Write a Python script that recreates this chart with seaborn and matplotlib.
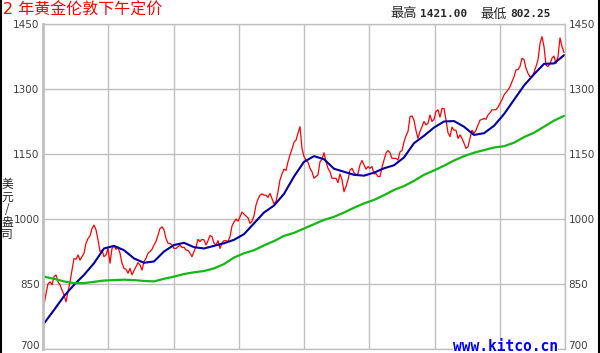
import numpy as np
import matplotlib
matplotlib.use("Agg")
import matplotlib.pyplot as plt
import seaborn as sns
from matplotlib.lines import Line2D

# daily London PM fix (one value every 2 px)
gold = [
    802, 828, 850, 855, 848, 867, 871, 855, 848, 836, 825, 809, 832, 855, 882,
    909, 907, 917, 905, 913, 921, 944, 955, 961, 978, 986, 975, 952, 925, 928,
    913, 917, 932, 898, 932, 938, 930, 935, 921, 898, 886, 884, 875, 886, 871,
    881, 890, 899, 894, 882, 902, 909, 921, 925, 930, 940, 948, 963, 978, 982,
    975, 955, 944, 944, 940, 932,
    932, 936, 940, 934, 935, 928, 928, 921, 913, 925, 936, 953, 948, 953, 952,
    940, 950, 962, 959, 944, 940, 950, 932, 945, 950, 950, 948, 959, 984, 993,
    1000, 995, 1005, 1016, 1011, 1007, 1003, 990, 995, 1007, 1032, 1046, 1055, 1058, 1055,
    1055, 1050, 1059, 1047, 1035, 1040, 1063, 1090, 1104, 1115, 1112, 1132, 1148, 1161, 1177,
    1182, 1198, 1213, 1163, 1144,
    1136, 1131, 1117, 1109, 1094, 1098, 1102, 1132, 1138, 1153, 1132, 1117, 1109, 1094, 1094,
    1094, 1084, 1104, 1090, 1063, 1075, 1090, 1113, 1117, 1107, 1102, 1105, 1125, 1135, 1125,
    1115, 1121, 1117, 1121, 1104, 1105, 1098, 1098, 1119, 1136, 1152, 1158, 1153, 1140, 1140,
    1140, 1136, 1155, 1158, 1178, 1192, 1202, 1236, 1238, 1228, 1204, 1186, 1202, 1213, 1225,
    1217, 1221, 1240, 1225, 1230,
    1248, 1252, 1235, 1255, 1255, 1229, 1199, 1190, 1212, 1205, 1205, 1186, 1194, 1186, 1175,
    1163, 1167, 1186, 1205, 1198, 1205, 1217, 1228, 1230, 1232, 1230, 1240, 1245, 1252, 1252,
    1252, 1258, 1267, 1275, 1286, 1292, 1298, 1305, 1317, 1328, 1344, 1345, 1352, 1371, 1368,
    1348, 1336, 1328, 1328, 1338, 1352, 1367, 1405, 1421, 1398, 1355, 1352, 1358, 1371, 1376,
    1359, 1375, 1418, 1398, 1384,
]

# moving averages, read every 5th point
ma_short = [
    759, 790, 822, 848, 871, 898, 932, 938, 928, 909, 899, 902, 925, 940,
    945, 935, 932, 938, 944, 952, 965, 990, 1015, 1031, 1058, 1098, 1132,
    1145, 1138, 1116, 1109, 1102, 1100, 1107, 1117, 1124, 1142, 1175, 1192, 1211,
    1225, 1226, 1213, 1194, 1198, 1215, 1242, 1275, 1308, 1334, 1358, 1359, 1378,
]
ma_long = [
    867, 862, 856, 852, 852, 855, 858, 859, 860, 859, 857, 856, 862, 867,
    873, 877, 880, 886, 896, 911, 921, 928, 939, 949, 961, 968, 978,
    988, 998, 1005, 1015, 1026, 1036, 1044, 1055, 1067, 1076, 1088, 1102, 1112,
    1123, 1135, 1145, 1153, 1159, 1165, 1168, 1176, 1189, 1199, 1213, 1227, 1238,
]

price_ticks = [700, 850, 1000, 1150, 1300, 1450]
title = "2 年黄金伦敦下午定价"
high_label, high_val = "最高", "1421.00"
low_label, low_val = "最低", "802.25"
unit = "美\n元\n/\n盎\n司"
site = "www.kitco.cn"

sns.set_style("white")
cjk = ['DejaVu Sans', 'Noto Sans CJK SC']
plt.rcParams['font.family'] = cjk

fig = plt.figure(figsize=(6, 3.53), dpi=100)
ax = fig.add_axes([43 / 600, 4 / 353, 522 / 600, 325 / 353])

day = np.arange(len(gold))
ma_day = np.arange(0, len(gold), 5)

sns.lineplot(x=day, y=gold, ax=ax, color='#ff0000', lw=0.9)
sns.lineplot(x=ma_day, y=ma_short, ax=ax, color='#0000a8', lw=1.5)
sns.lineplot(x=ma_day, y=ma_long, ax=ax, color='#14b814', lw=1.6)

ax.set_xlim(-0.5, len(gold) - 0.5)
ax.set_ylim(700, 1450)
ax.set_yticks(price_ticks)
ax.set_xticks(np.linspace(-0.5, len(gold) - 0.5, 9))
ax.set_xticklabels([])
ax.grid(True, color='#c0c0c0', lw=1.0)
ax.set_axisbelow(True)
ax.tick_params(axis='x', length=0)
ax.tick_params(axis='y', labelright=True, right=False, left=False, length=0,
               labelsize=7.5, labelcolor='#404040', pad=2.5)
for i, tk in enumerate(ax.yaxis.get_major_ticks()):
    # bottom label sits on the baseline so it is not clipped at the edge
    va = 'baseline' if i == 0 else 'center_baseline'
    tk.label1.set_verticalalignment(va)
    tk.label2.set_verticalalignment(va)
for side, sp in ax.spines.items():
    sp.set_color('#c0c0c0')
    sp.set_linewidth(2.0 if side == 'left' else 1.0)

fig.text(3 / 600, 1 - 10.5 / 353, title, color='#ff0000', fontsize=11.5,
         ha='left', va='center', family=cjk)
fig.text(390 / 600, 1 - 14 / 353, high_label, fontsize=9.5, ha='left', va='center',
         family=['Noto Sans CJK SC'])
fig.text(420 / 600, 1 - 14 / 353, high_val, fontsize=8, ha='left', va='center',
         family='DejaVu Sans Mono', weight='bold')
fig.text(480 / 600, 1 - 14 / 353, low_label, fontsize=9.5, ha='left', va='center',
         family=['Noto Sans CJK SC'])
fig.text(510 / 600, 1 - 14 / 353, low_val, fontsize=8, ha='left', va='center',
         family='DejaVu Sans Mono', weight='bold')
fig.text(7 / 600, 1 - 210 / 353, unit, fontsize=8.5, ha='center', va='center',
         linespacing=0.95, family=['Noto Sans CJK SC', 'DejaVu Sans'])
fig.text(453 / 600, 1 - 351 / 353, site, color='#0000ff', fontsize=10.5,
         family='DejaVu Sans Mono', weight='bold', ha='left', va='baseline',
         bbox=dict(fc='white', ec='none', pad=0))

fig.add_artist(Line2D([0.0015, 0.0015], [0, 1], color='black', lw=1.5,
                      transform=fig.transFigure))
fig.add_artist(Line2D([598.5 / 600, 598.5 / 600], [0, 1], color='black', lw=1.5,
                      transform=fig.transFigure))

fig.savefig("out.png", dpi=100)
